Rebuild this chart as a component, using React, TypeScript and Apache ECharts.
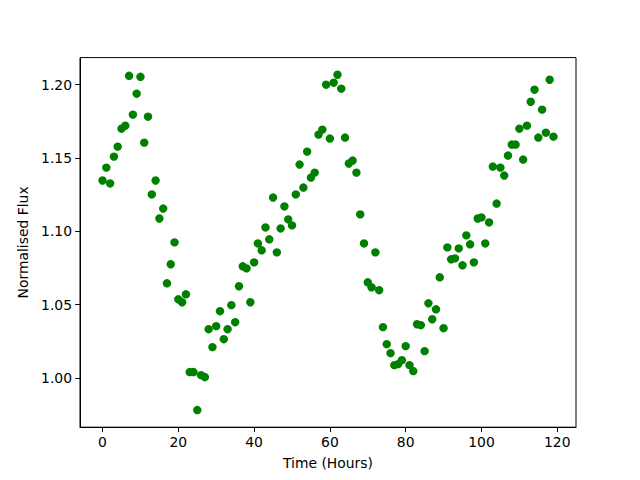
import React, { useEffect, useRef } from "react";
import * as echarts from "echarts";

const hours: number[] = Array.from({ length: 120 }, (_, i) => i);

const flux: number[] = [
  1.1347, 1.1435, 1.1327, 1.151, 1.1578, 1.170, 1.1721, 1.2061, 1.1796, 1.1939,
  1.2054, 1.1605, 1.1782, 1.1252, 1.1347, 1.1088, 1.1156, 1.0646, 1.0776, 1.0925,
  1.0537, 1.0517, 1.0571, 1.0041, 1.0041, 0.9782, 1.0020, 1.0007, 1.0333, 1.0211,
  1.0354, 1.0456, 1.0265, 1.0333, 1.0497, 1.0381, 1.0626, 1.0762, 1.0748, 1.0517,
  1.0789, 1.0918, 1.0871, 1.1027, 1.0946, 1.1231, 1.0857, 1.1020, 1.117, 1.1082,
  1.1041, 1.1252, 1.1456, 1.1299, 1.1544, 1.1367, 1.1401, 1.166, 1.1694, 1.2,
  1.1633, 1.2014, 1.2068, 1.1973, 1.164, 1.1463, 1.1483, 1.1401, 1.1116, 1.0918,
  1.0653, 1.0619, 1.0857, 1.0599, 1.0347, 1.0231, 1.017, 1.0088, 1.0095, 1.0122,
  1.0218, 1.0088, 1.0048, 1.0367, 1.0361, 1.0184, 1.051, 1.0401, 1.0469, 1.0687,
  1.034, 1.0891, 1.0810, 1.0816, 1.0884, 1.0769, 1.0973, 1.0912, 1.0789, 1.1088,
  1.1095, 1.0918, 1.1061, 1.1442, 1.1190, 1.1435, 1.1381, 1.1517, 1.1592, 1.1592,
  1.170, 1.149, 1.1721, 1.1884, 1.1966, 1.164, 1.183, 1.1673, 1.2034, 1.1646,
];

const xTicks: number[] = [0, 20, 40, 60, 80, 100, 120];
const yTicks: number[] = [1.0, 1.05, 1.1, 1.15, 1.2];

const FONT = "DejaVu Sans";
const FS = 13.9;

export default function App() {
  const ref = useRef<HTMLDivElement>(null);
  useEffect(() => {
    if (!ref.current) return;
    const chart = echarts.init(ref.current, undefined, { renderer: "svg" });
    const xMin = -5.95;
    const xMax = 124.95;
    const yMin = 0.9665;
    const yMax = 1.2185;
    chart.setOption({
      animation: false,
      backgroundColor: "#ffffff",
      grid: {
        left: 80,
        right: 64,
        top: 57.6,
        bottom: 52.8,
        show: true,
        borderColor: "#000",
        borderWidth: 1,
        backgroundColor: "transparent",
        containLabel: false,
      },
      xAxis: {
        type: "value",
        min: xMin,
        max: xMax,
        name: "Time (Hours)",
        nameLocation: "middle",
        nameGap: 29,
        nameTextStyle: { fontFamily: FONT, fontSize: FS, color: "#000" },
        axisLine: { show: true, onZero: false, lineStyle: { color: "#000", width: 1 } },
        axisTick: {
          show: true,
          length: 4.9,
          inside: false,
          customValues: xTicks,
          lineStyle: { color: "#000", width: 1 },
        },
        axisLabel: {
          show: true,
          customValues: xTicks,
          margin: 8,
          fontFamily: FONT,
          fontSize: FS,
          color: "#000",
          formatter: (v: number) => String(Math.round(v)),
        },
        splitLine: { show: false },
      },
      yAxis: {
        type: "value",
        min: yMin,
        max: yMax,
        name: "Normalised Flux",
        nameLocation: "middle",
        nameGap: 46,
        nameRotate: 90,
        nameTextStyle: { fontFamily: FONT, fontSize: FS, color: "#000" },
        axisLine: { show: true, onZero: false, lineStyle: { color: "#000", width: 1 } },
        axisTick: {
          show: true,
          length: 4.9,
          inside: false,
          customValues: yTicks,
          lineStyle: { color: "#000", width: 1 },
        },
        axisLabel: {
          show: true,
          customValues: yTicks,
          margin: 8,
          fontFamily: FONT,
          fontSize: FS,
          color: "#000",
          formatter: (v: number) => v.toFixed(2),
        },
        splitLine: { show: false },
      },
      series: [
        {
          type: "scatter",
          data: hours.map((h, i) => [h, flux[i]]),
          symbol: "circle",
          symbolSize: 8.4,
          itemStyle: { color: "#008000", opacity: 1 },
          emphasis: { disabled: true },
        },
      ],
    });
    return () => chart.dispose();
  }, []);
  return <div ref={ref} style={{ width: 640, height: 480, position: "absolute", left: 0, top: 0 }} />;
}
